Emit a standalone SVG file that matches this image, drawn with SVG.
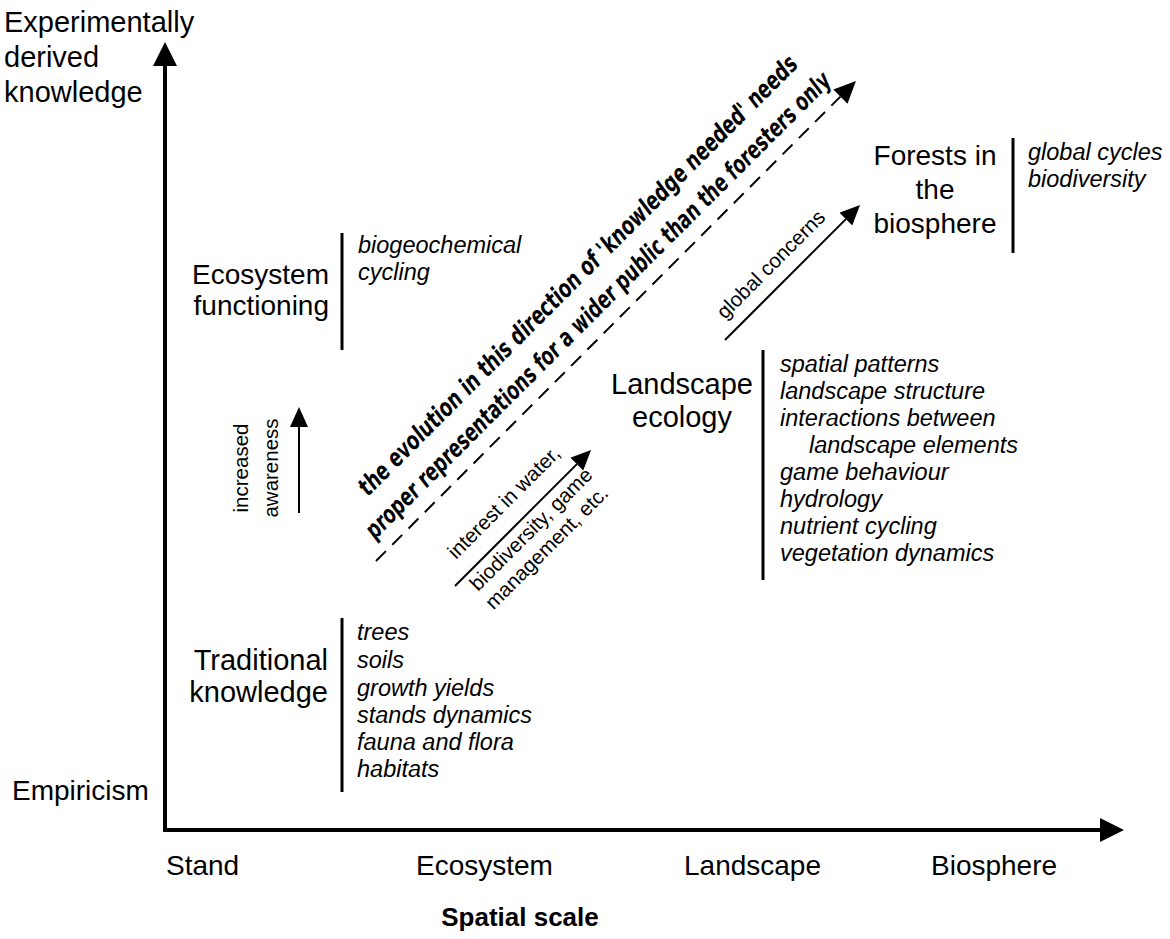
<svg xmlns="http://www.w3.org/2000/svg" width="1170" height="939" viewBox="0 0 1170 939">
<defs>
<style>
text{font-family:"Liberation Sans",Arial,sans-serif;fill:#000}
.lab{font-size:28px}
.big{font-size:29px}
.it{font-size:23.5px;font-style:italic}
.sm{font-size:20.5px}
.bd{font-family:"DejaVu Sans Condensed","Liberation Sans Narrow","Liberation Sans",sans-serif;font-size:25px;font-weight:bold;font-style:italic}
.bar{stroke:#000;stroke-width:3;fill:none}
.axis{stroke:#000;stroke-width:4;fill:none}
.thin{stroke:#000;stroke-width:2;fill:none}
</style>
<marker id="axhead" markerUnits="userSpaceOnUse" markerWidth="24" markerHeight="24" viewBox="0 0 24 24" refX="0" refY="12" orient="auto"><path d="M0,0 L24,12 L0,24 z" fill="#000"/></marker>
<marker id="head" markerUnits="userSpaceOnUse" markerWidth="20" markerHeight="18" viewBox="0 0 20 18" refX="0" refY="9" orient="auto"><path d="M0,0 L20,9 L0,18 z" fill="#000"/></marker>
<marker id="dhead" markerUnits="userSpaceOnUse" markerWidth="22" markerHeight="20" viewBox="0 0 22 20" refX="0" refY="10" orient="auto"><path d="M0,0 L22,10 L0,20 z" fill="#000"/></marker>
</defs>
<rect width="1170" height="939" fill="#fff"/>

<g id="connectors">
<line class="axis" x1="165" y1="832" x2="165" y2="66" marker-end="url(#axhead)"/>
<line class="axis" x1="163" y1="830" x2="1100" y2="830" marker-end="url(#axhead)"/>
<line class="thin" x1="299" y1="513" x2="299" y2="427" marker-end="url(#head)"/>
<line class="thin" x1="455" y1="586" x2="576.9" y2="464.1" marker-end="url(#head)"/>
<line class="thin" x1="725" y1="340" x2="845.9" y2="219.1" marker-end="url(#head)"/>
<line class="thin" x1="376" y1="561" x2="840.4" y2="96.6" stroke-dasharray="14 9" marker-end="url(#dhead)"/>
</g>

<g id="axis-labels">
<text class="big" x="4" y="32">Experimentally</text>
<text class="big" x="4" y="67">derived</text>
<text class="big" x="4" y="102">knowledge</text>
<text class="lab" x="12" y="800">Empiricism</text>
<text class="lab" x="166" y="875">Stand</text>
<text class="lab" x="416" y="875">Ecosystem</text>
<text class="lab" x="684" y="875">Landscape</text>
<text class="lab" x="931" y="875">Biosphere</text>
<text x="520" y="926" text-anchor="middle" font-weight="bold" font-size="26">Spatial scale</text>
</g>

<g id="node-ecosystem">
<text class="lab" x="329" y="284" text-anchor="end">Ecosystem</text>
<text class="lab" x="329" y="315" text-anchor="end">functioning</text>
<line class="bar" x1="342" y1="233" x2="342" y2="350"/>
<text class="it" x="358" y="253">biogeochemical</text>
<text class="it" x="358" y="280">cycling</text>
</g>

<g id="node-traditional">
<text class="big" x="328" y="670" text-anchor="end">Traditional</text>
<text class="big" x="328" y="702" text-anchor="end">knowledge</text>
<line class="bar" x1="342" y1="618" x2="342" y2="792"/>
<text class="it" x="357" y="640">trees</text>
<text class="it" x="357" y="668">soils</text>
<text class="it" x="357" y="696">growth yields</text>
<text class="it" x="357" y="723">stands dynamics</text>
<text class="it" x="357" y="750">fauna and flora</text>
<text class="it" x="357" y="777">habitats</text>
</g>

<g id="node-landscape">
<text class="big" x="682" y="394" text-anchor="middle">Landscape</text>
<text class="big" x="682" y="427" text-anchor="middle">ecology</text>
<line class="bar" x1="763" y1="350" x2="763" y2="580"/>
<text class="it" x="780" y="372">spatial patterns</text>
<text class="it" x="780" y="399">landscape structure</text>
<text class="it" x="780" y="426">interactions between</text>
<text class="it" x="809" y="453">landscape elements</text>
<text class="it" x="780" y="480">game behaviour</text>
<text class="it" x="780" y="507">hydrology</text>
<text class="it" x="780" y="534">nutrient cycling</text>
<text class="it" x="780" y="561">vegetation dynamics</text>
</g>

<g id="node-biosphere">
<text class="lab" x="935" y="165" text-anchor="middle">Forests in</text>
<text class="lab" x="935" y="199" text-anchor="middle">the</text>
<text class="lab" x="935" y="233" text-anchor="middle">biosphere</text>
<line class="bar" x1="1013" y1="138" x2="1013" y2="253"/>
<text class="it" x="1028" y="160">global cycles</text>
<text class="it" x="1028" y="187">biodiversity</text>
</g>

<g id="arrow-labels">
<text class="sm" text-anchor="middle" transform="translate(248,468) rotate(-90)">increased</text>
<text class="sm" text-anchor="middle" transform="translate(278,468) rotate(-90)">awareness</text>
<text class="sm" transform="translate(456,560) rotate(-45)">interest in water,</text>
<text class="sm" transform="translate(478,592) rotate(-45)">biodiversity, game</text>
<text class="sm" transform="translate(493.5,610.5) rotate(-45)">management, etc.</text>
<text class="sm" font-size="21.5" transform="translate(725,320) rotate(-45)">global concerns</text>
<text class="bd" transform="translate(368,497) rotate(-45)" textLength="610" lengthAdjust="spacingAndGlyphs">the evolution in this direction of 'knowledge needed' needs</text>
<text class="bd" transform="translate(375,540) rotate(-45)" textLength="647" lengthAdjust="spacingAndGlyphs">proper representations for a wider public than the foresters only</text>
</g>
</svg>
